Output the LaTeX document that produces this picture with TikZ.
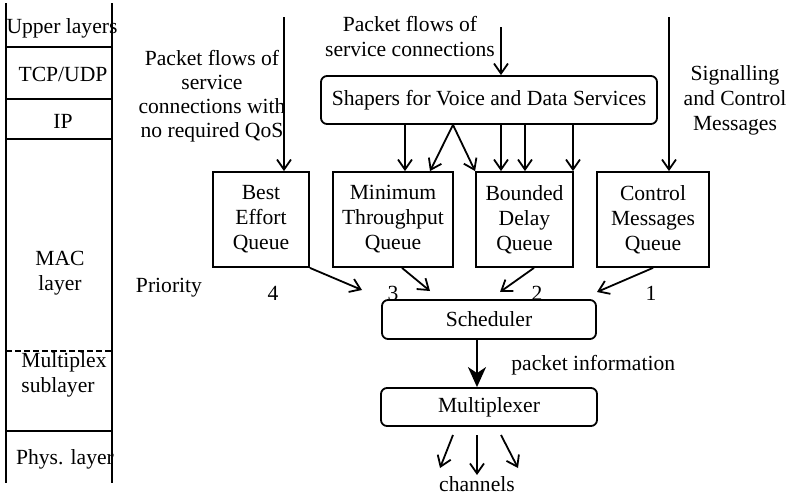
\documentclass[tikz,border=0pt]{standalone}
\usepackage{fontspec}
\setmainfont{Liberation Serif}
\usetikzlibrary{arrows.meta}
\begin{document}
\begin{tikzpicture}[x=0.5pt,y=-0.5pt,
  every node/.style={font=\fontsize{10.8}{12.5}\selectfont, inner sep=0pt},
  box/.style={draw, line width=0.9pt, minimum height=47.5pt, align=center},
  rbox/.style={draw, line width=0.9pt, rounded corners=3pt},
  arr/.style={line width=0.9pt, -{Straight Barb[length=5pt,width=7pt]}},
  bigarr/.style={line width=1pt, -{Stealth[length=10pt,width=9pt,inset=3pt]}},
  lay/.style={line width=0.9pt},
  ]
\useasboundingbox (0,0) rectangle (789,498);

% layer stack
\draw[lay] (6,3) -- (6,483);
\draw[lay] (112,3) -- (112,483);
\draw[lay] (6,47) -- (112,47);
\draw[lay] (6,99) -- (112,99);
\draw[lay] (6,139) -- (112,139);
\draw[lay, dash pattern=on 3pt off 1.5pt] (6,351) -- (112,351);
\draw[lay] (6,431) -- (112,431);
\node (ul) at (62,28) {Upper layers};
\node (tcp) at (63,74) {TCP/UDP};
\node (ip) at (63,121) {IP};
\node[align=center] (mac) at (60,273) {MAC\\layer};
\node[align=left, anchor=west] (mux) at (21,375) {Multiplex\\sublayer};
\node (phy) at (65,459) {Phys. layer};

% column helpers
\coordinate (c405) at (405,0);
\coordinate (c430) at (430,0);
\coordinate (c453) at (453,0);
\coordinate (c501) at (501,0);
\coordinate (c525) at (525,0);
\coordinate (c573) at (573,0);
\coordinate (c402) at (402,0);
\coordinate (c534) at (534,0);
\coordinate (c477) at (477,0);

% boxes
\node[rbox, minimum width=168pt, minimum height=24pt] (sh) at (489,100) {Shapers for Voice and Data Services};
\node[box, minimum width=48pt] (be) at (261,219.5) {Best\\Effort\\Queue};
\node[box, minimum width=60pt] (mt) at (393,219.5) {Minimum\\Throughput\\Queue};
\node[box, minimum width=48.5pt] (bd) at (524.5,219.5) {Bounded\\Delay\\Queue};
\node[box, minimum width=56pt] (cm) at (653,219.5) {Control\\Messages\\Queue};
\node[rbox, minimum width=107pt, minimum height=19.5pt] (sc) at (489,319.5) {Scheduler};
\node[rbox, minimum width=108pt, minimum height=19pt] (mx) at (489,407) {Multiplexer};

% texts
\node[align=center] (t1) at (410,37) {Packet flows of\\service connections};
\node[align=center, font=\fontsize{10.8}{12}\selectfont] (t2) at (212,96) {Packet flows of\\service\\connections with\\no required QoS};
\node[align=center] (t3) at (735,100) {Signalling\\and Control\\Messages};
\node (prio) at (169,288) {Priority};
\node (p4) at (273,293) {4};
\node (p3) at (393,293) {3};
\node (p2) at (537,293) {2};
\node (p1) at (651,293) {1};
\node[anchor=west] (pi) at (511,365) {packet information};
\node (chn) at (477,484) {channels};

% input arrows
\coordinate (ta) at (501,27);
\draw[arr] (ta) -- (ta |- sh.north);
\coordinate (la) at (284,17);
\draw[arr] (la) -- (la |- be.north);
\coordinate (sa) at (669,17);
\draw[arr] (sa) -- (sa |- cm.north);

% shaper to queues
\draw[arr] (c405 |- sh.south) -- (c405 |- mt.north);
\draw[arr] (c453 |- sh.south) -- (c430 |- mt.north);
\draw[arr] (c453 |- sh.south) -- (bd.north west);
\draw[arr] (c501 |- sh.south) -- (c501 |- bd.north);
\draw[arr] (c525 |- sh.south) -- (c525 |- bd.north);
\draw[arr] (c573 |- sh.south) -- (c573 |- bd.north);

% queues to scheduler
\coordinate (e4) at (362,290);
\coordinate (e3) at (430,291);
\coordinate (e2) at (500,292);
\coordinate (e1) at (597,292);
\draw[arr] (be.south east) -- (e4);
\draw[arr] (c402 |- mt.south) -- (e3);
\draw[arr] (c534 |- bd.south) -- (e2);
\draw[arr] (cm.south) -- (e1);

% scheduler to multiplexer
\draw[bigarr] (c477 |- sc.south) -- (c477 |- mx.north);

% channels
\coordinate (s1) at (453,435); \coordinate (f1) at (440,468);
\coordinate (s2) at (477,435); \coordinate (f2) at (477,475);
\coordinate (s3) at (501,435); \coordinate (f3) at (518,468);
\draw[arr] (s1) -- (f1);
\draw[arr] (s2) -- (f2);
\draw[arr] (s3) -- (f3);
\end{tikzpicture}
\end{document}
